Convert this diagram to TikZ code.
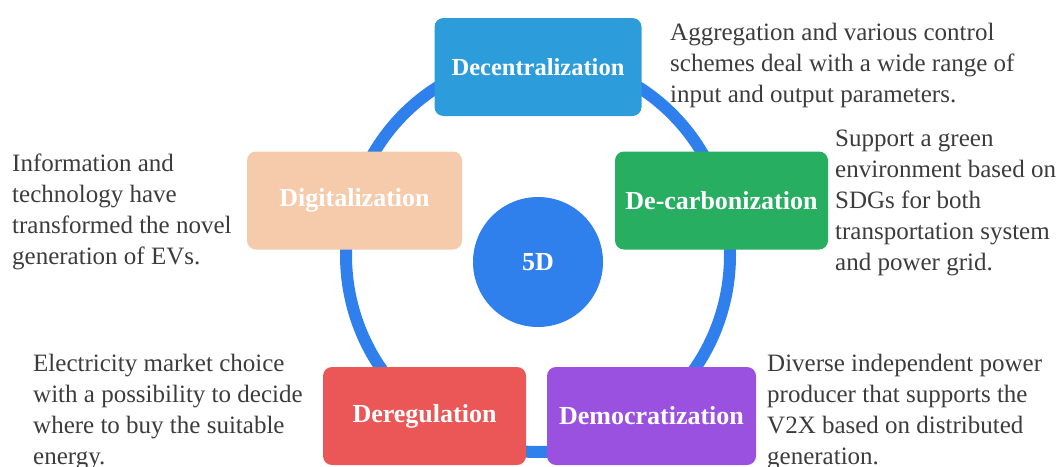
\documentclass[tikz,border=0pt]{standalone}
\usepackage{fontspec}
\setmainfont{Liberation Serif}
\usetikzlibrary{positioning}
\definecolor{ringblue}{HTML}{2F80ED}
\definecolor{decblue}{HTML}{2D9CDB}
\definecolor{digpeach}{HTML}{F6CBAC}
\definecolor{carbgreen}{HTML}{27AE60}
\definecolor{regred}{HTML}{EB5757}
\definecolor{demopurple}{HTML}{9B51E0}
\definecolor{notegray}{HTML}{3C3C3C}
\tikzset{dbox/.style={rounded corners=9pt,minimum height=98pt,text=white,
           font=\fontsize{26}{30}\selectfont\bfseries},
         note/.style={anchor=base west,align=left,inner sep=0pt,text=notegray,
           font=\fontsize{25}{31}\selectfont},
         ring/.style={line width=12pt,draw=ringblue}}
\begin{document}
\begin{tikzpicture}[x=1pt,y=-1pt]
  \useasboundingbox (0,0) rectangle (1062,466);
  \clip (0,0) rectangle (1062,466);
  \draw[ring] (538,255) ellipse [x radius=192,y radius=197];
  \node[circle,fill=ringblue,minimum size=130pt,text=white,
    font=\fontsize{26}{30}\selectfont\bfseries] (hub) at (538,262) {5D};
  % the five D's
  \node[dbox,fill=decblue,minimum width=207pt,
    font=\fontsize{24.5}{30}\selectfont\bfseries] (decent) at (538,67) {Decentralization};
  \node[dbox,fill=digpeach,minimum width=215pt] (digital) at (354.5,200.5) {Digitalization};
  \node[dbox,fill=carbgreen,minimum width=213pt] (decarb) at (721.5,200.5) {De-carbonization};
  \node[dbox,fill=regred,minimum width=203pt] (dereg) at (424.5,416) {Deregulation};
  \node[dbox,fill=demopurple,minimum width=209pt] (democ) at (651.5,416) {Democratization};
  % notes (anchored on their last line)
  \node[note] (decentnote) at (670,102) {Aggregation and various control\\schemes deal with a wide range of\\input and output parameters.};
  \node[note] (digitalnote) at (12,264) {Information and\\technology have\\transformed the novel\\generation of EVs.};
  \node[note] (decarbnote) at (835,270) {Support a green\\environment based on\\SDGs for both\\transportation system\\and power grid.};
  \node[note] (deregnote) at (33,464) {Electricity market choice\\with a possibility to decide\\where to buy the suitable\\energy.};
  \node[note] (democnote) at (767,464) {Diverse independent power\\producer that supports the\\V2X based on distributed\\generation.};
\end{tikzpicture}
\end{document}
